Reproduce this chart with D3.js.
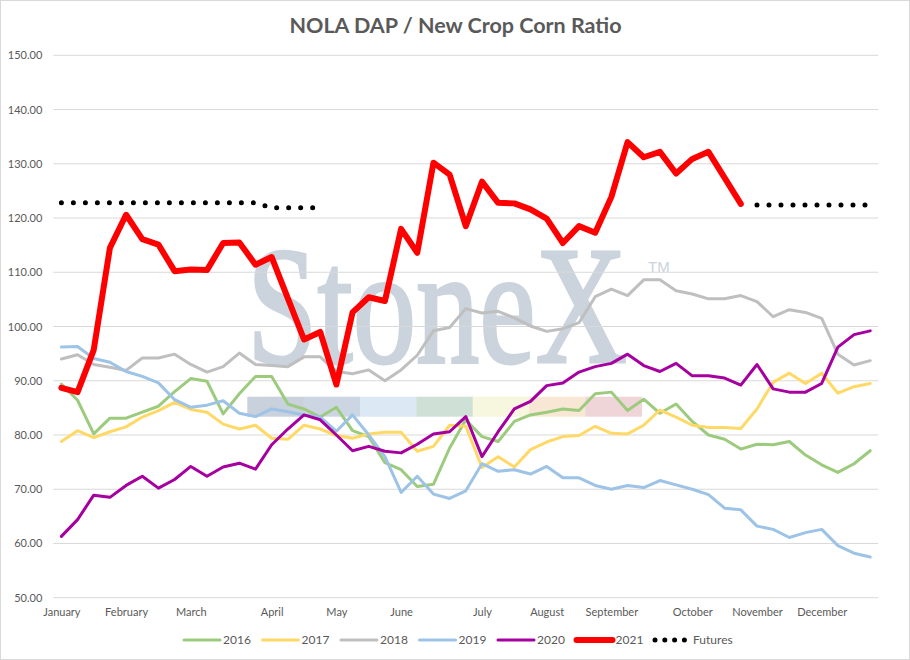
<!DOCTYPE html>
<html>
<head>
<meta charset="utf-8">
<script src="https://cdn.jsdelivr.net/npm/d3@7"></script>
<style>
  body { margin: 0; background: #fff; }
  svg { display: block; font-family: Lato, "Open Sans", sans-serif; }
</style>
</head>
<body>
<div id="chart"></div>
<script>
// weekly categories, month name on the first week of each month
const weekLabels = [
  "January", "", "", "", "February", "", "", "", "March", "", "", "", "", "April", "", "", "",
  "May", "", "", "", "June", "", "", "", "", "July", "", "", "", "August", "", "", "",
  "September", "", "", "", "", "October", "", "", "", "November", "", "", "", "December", "", "", ""
];

const s2016 = [89.4, 86.4, 80.2, 83.1, 83.1, 84.2, 85.3, 88.0, 90.4, 89.9, 83.9, 87.6, 90.8, 90.8, 85.7, 84.8, 83.3,
  85.1, 80.8, 79.7, 74.9, 73.6, 70.5, 70.9, 77.6, 82.8, 79.7, 78.8, 82.5, 83.7, 84.2, 84.8, 84.5,
  87.6, 87.9, 84.5, 86.6, 84.0, 85.7, 82.5, 80.0, 79.2, 77.4, 78.3, 78.2, 78.8, 76.3, 74.5, 73.1, 74.7, 77.1];
const s2017 = [78.8, 80.8, 79.5, 80.6, 81.5, 83.3, 84.5, 86.0, 84.7, 84.2, 82.0, 81.1, 81.8, 79.4, 79.2, 81.8, 81.1,
  79.9, 79.4, 80.2, 80.5, 80.5, 77.0, 77.9, 81.8, 81.6, 74.0, 76.0, 74.1, 77.3, 78.7, 79.7, 79.9,
  81.6, 80.3, 80.2, 81.8, 84.6, 83.3, 81.8, 81.4, 81.4, 81.2, 84.8, 89.7, 91.4, 89.5, 91.4, 87.7, 88.9, 89.5];
const s2018 = [94.0, 94.8, 93.0, 92.5, 91.9, 94.2, 94.2, 94.9, 93.0, 91.6, 92.6, 95.1, 93.0, 92.8, 92.6, 94.4, 94.4,
  91.7, 91.3, 92.0, 90.0, 92.0, 94.7, 99.2, 99.8, 103.3, 102.5, 102.8, 101.6, 100.1, 99.1, 99.6, 100.7,
  105.5, 106.9, 105.7, 108.6, 108.6, 106.6, 106.0, 105.1, 105.1, 105.7, 104.6, 101.8, 103.1, 102.6, 101.5, 94.9, 92.9, 93.7];
const s2019 = [96.2, 96.3, 94.1, 93.4, 91.7, 90.8, 89.6, 86.5, 85.1, 85.5, 86.3, 84.0, 83.4, 84.8, 84.3, 83.7, 83.3,
  80.7, 83.7, 80.0, 76.0, 69.4, 72.4, 69.1, 68.3, 69.7, 74.7, 73.3, 73.6, 72.8, 74.2, 72.1, 72.1,
  70.7, 70.0, 70.7, 70.3, 71.6, 70.8, 70.0, 69.0, 66.5, 66.2, 63.2, 62.6, 61.1, 62.0, 62.6, 59.6, 58.2, 57.5];
const s2020 = [61.3, 64.4, 68.9, 68.5, 70.7, 72.4, 70.2, 71.8, 74.2, 72.4, 74.1, 74.8, 73.7, 78.2, 81.1, 83.7, 82.8,
  80.0, 77.1, 77.9, 77.0, 76.7, 78.3, 80.2, 80.6, 83.4, 76.0, 80.6, 84.8, 86.2, 89.1, 89.6, 91.6,
  92.6, 93.2, 94.9, 92.8, 91.7, 93.2, 90.9, 90.9, 90.5, 89.2, 93.0, 88.5, 87.9, 87.9, 89.5, 96.2, 98.5, 99.2];
const s2021 = [88.7, 87.9, 95.7, 114.5, 120.6, 116.1, 115.1, 110.2, 110.5, 110.4, 115.4, 115.5, 111.4, 112.8, 105.2, 97.6, 99.0,
  89.3, 102.6, 105.4, 104.7, 118.0, 113.6, 130.2, 128.0, 118.5, 126.7, 122.8, 122.7, 121.6, 119.9, 115.4, 118.5,
  117.3, 123.9, 134.0, 131.2, 132.2, 128.2, 130.9, 132.2, 127.4, 122.6];
const futures = [122.8, 122.8, 122.8, 122.8, 122.8, 122.8, 122.8, 122.8, 122.8, 122.8, 122.8, 122.8, 122.8, 121.9, 121.9, 121.9, 121.9,
  null, null, null, null, null, null, null, null, null, null, null, null, null, null, null, null,
  null, null, null, null, null, null, null, null, null, null, 122.4, 122.4, 122.4, 122.4, 122.4, 122.4, 122.4, 122.4];

const yTicks = [50, 60, 70, 80, 90, 100, 110, 120, 130, 140, 150];

const series = [
  { name: "2016", values: s2016, color: "#9dcb7e", width: 3 },
  { name: "2017", values: s2017, color: "#ffd966", width: 3 },
  { name: "2018", values: s2018, color: "#bfbfbf", width: 3 },
  { name: "2019", values: s2019, color: "#9dc3e6", width: 3 },
  { name: "2020", values: s2020, color: "#a5009f", width: 3 },
  { name: "2021", values: s2021, color: "#ff0000", width: 6 },
  { name: "Futures", values: futures, color: "#000000", width: 5, dotted: true }
];

const width = 910, height = 660;
const plot = { left: 53.3, right: 878.3, top: 55.3, bottom: 597.7 };
const textColor = "#595959";
const wmColor = "#cbd3dd";

const svg = d3.select("#chart").append("svg")
  .attr("width", width)
  .attr("height", height);

svg.append("rect")
  .attr("x", 0.5).attr("y", 0.5)
  .attr("width", width - 1).attr("height", height - 1)
  .attr("fill", "#fff")
  .attr("stroke", "#d9d9d9");

const x = d3.scalePoint()
  .domain(d3.range(weekLabels.length))
  .range([plot.left, plot.right])
  .padding(0.5);

const y = d3.scaleLinear()
  .domain([50, 150])
  .range([plot.bottom, plot.top]);

// StoneX watermark behind the plot, squeezed to the logo width
const wm = svg.append("g");
const logo = wm.append("text")
  .attr("x", 0).attr("y", 0)
  .attr("font-family", "'Liberation Serif', 'DejaVu Serif', serif")
  .attr("font-size", 168)
  .attr("fill", wmColor)
  .attr("stroke", wmColor)
  .attr("stroke-width", 3)
  .text("StoneX");
const sx = 380 / logo.node().getComputedTextLength();
logo.attr("transform", `translate(247,362) scale(${sx},1)`);
wm.append("text")
  .attr("x", 648).attr("y", 272)
  .attr("font-family", "'Liberation Sans', sans-serif")
  .attr("font-size", 15)
  .attr("fill", wmColor)
  .text("TM");

const bandColors = ["#c9d1dc", "#ccd6e3", "#dce8f3", "#cfe0d6", "#f7f6de", "#f8e7d4", "#efd5d8"];
const bandX = d3.scaleBand().domain(d3.range(bandColors.length)).range([247.3, 641.7]);
wm.selectAll("rect.band")
  .data(bandColors)
  .join("rect")
  .attr("class", "band")
  .attr("x", (d, i) => bandX(i))
  .attr("y", 396.7)
  .attr("width", bandX.bandwidth() + 0.3)
  .attr("height", 20)
  .attr("fill", d => d);

// gridlines
svg.append("g")
  .selectAll("line")
  .data(yTicks)
  .join("line")
  .attr("x1", plot.left).attr("x2", plot.right)
  .attr("y1", d => y(d)).attr("y2", d => y(d))
  .attr("stroke", "#d9d9d9")
  .attr("stroke-width", 1);

// y axis labels
const yAxis = svg.append("g")
  .attr("transform", `translate(${plot.left},0)`)
  .call(d3.axisLeft(y).tickValues(yTicks).tickFormat(d3.format(".2f")).tickSize(0).tickPadding(11));
yAxis.select(".domain").remove();
yAxis.selectAll("text")
  .attr("font-family", "Lato, sans-serif")
  .attr("font-size", 11)
  .attr("fill", textColor);

// x axis labels
const xAxis = svg.append("g")
  .attr("transform", `translate(0,${plot.bottom})`)
  .call(d3.axisBottom(x)
    .tickValues(x.domain().filter(i => weekLabels[i] !== ""))
    .tickFormat(i => weekLabels[i])
    .tickSize(0).tickPadding(11));
xAxis.select(".domain").remove();
xAxis.selectAll("text")
  .attr("font-family", "Lato, sans-serif")
  .attr("font-size", 11)
  .attr("fill", textColor);

// lines
const line = d3.line()
  .defined(d => d != null)
  .x((d, i) => x(i))
  .y(d => y(d));

svg.append("g")
  .selectAll("path")
  .data(series)
  .join("path")
  .attr("d", d => line(d.values))
  .attr("fill", "none")
  .attr("stroke", d => d.color)
  .attr("stroke-width", d => d.width)
  .attr("stroke-linejoin", "round")
  .attr("stroke-linecap", "round")
  .attr("stroke-dasharray", d => d.dotted ? "0 12" : null);

// title
svg.append("text")
  .attr("x", 455.5)
  .attr("y", 33)
  .attr("text-anchor", "middle")
  .attr("font-family", "Lato, sans-serif")
  .attr("font-weight", "bold")
  .attr("font-size", 21.5)
  .attr("fill", textColor)
  .text("NOLA DAP / New Crop Corn Ratio");

// legend
const legend = svg.append("g")
  .attr("transform", "translate(184,640)");

series.forEach((s, i) => {
  const g = legend.append("g").attr("transform", `translate(${i * 78.5},0)`);
  g.append("line")
    .attr("x1", 0).attr("x2", s.dotted ? 29.6 : 36)
    .attr("y1", 0).attr("y2", 0)
    .attr("stroke", s.color)
    .attr("stroke-width", s.dotted ? 5 : s.width)
    .attr("stroke-linecap", "round")
    .attr("stroke-dasharray", s.dotted ? "0 9.8" : null);
  g.append("text")
    .attr("x", s.dotted ? 38 : 39)
    .attr("y", 4)
    .attr("font-family", "Lato, sans-serif")
    .attr("font-size", 12)
    .attr("fill", textColor)
    .text(s.name);
});
</script>
</body>
</html>
